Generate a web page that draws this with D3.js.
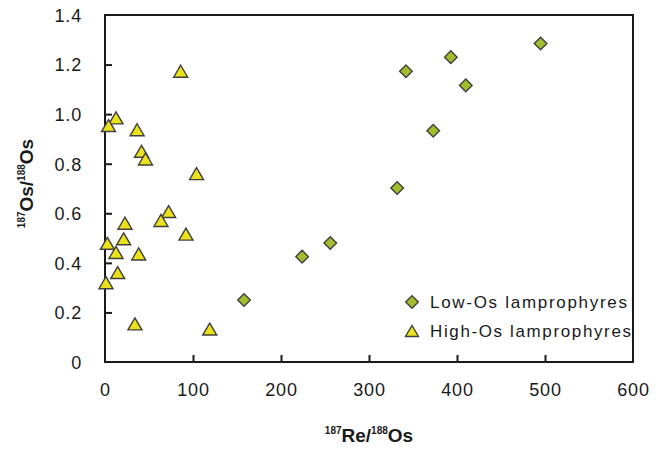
<!DOCTYPE html>
<html>
<head>
<meta charset="utf-8">
<script src="https://cdn.jsdelivr.net/npm/d3@7"></script>
<style>
  html, body { margin: 0; padding: 0; background: #fff; }
  svg { display: block; font-family: "Liberation Sans", Arial, sans-serif; }
</style>
</head>
<body>
<svg id="chart" width="669" height="449"></svg>
<script>
// 187Re/188Os vs 187Os/188Os for two lamprophyre groups
const lowOsRe = [158, 224, 256, 332, 373, 342, 393, 410, 495];
const lowOsOs = [0.25, 0.425, 0.48, 0.702, 0.933, 1.173, 1.23, 1.116, 1.285];

const highOsRe = [86, 12.5, 4, 36.5, 41.5, 46, 104, 22.7, 72.3, 63.6, 92, 21.2, 2.7, 12.5, 38.3, 14.4, 1.1, 34, 119];
const highOsOs = [1.173, 0.985, 0.954, 0.937, 0.85, 0.819, 0.76, 0.56, 0.607, 0.571, 0.516, 0.497, 0.479, 0.442, 0.436, 0.361, 0.32, 0.154, 0.133];

const xTicks = [0, 100, 200, 300, 400, 500, 600];
const yTicks = [0, 0.2, 0.4, 0.6, 0.8, 1.0, 1.2, 1.4];
const yTickLabels = ["0", "0.2", "0.4", "0.6", "0.8", "1.0", "1.2", "1.4"];
const seriesNames = ["Low-Os lamprophyres", "High-Os lamprophyres"];

const margin = { left: 105, right: 36, top: 15, bottom: 87 };
const W = 669, H = 449;
const svg = d3.select("#chart");

const x = d3.scaleLinear().domain([0, 600]).range([margin.left, W - margin.right]);
const y = d3.scaleLinear().domain([0, 1.4]).range([H - margin.bottom, margin.top]);

const axisColor = "#1a1a1a";
const markerStroke = "#404040";
const diamondFill = "#a2bd2c";
const triangleFill = "#ece21a";

// marker shapes
const diamondPath = (r) => `M0,${-r}L${r},0L0,${r}L${-r},0Z`;
const trianglePath = (w, h) => `M0,${-h / 2}L${w / 2},${h / 2}L${-w / 2},${h / 2}Z`;

// frame
svg.append("rect")
  .attr("x", x(0)).attr("y", y(1.4))
  .attr("width", x(600) - x(0)).attr("height", y(0) - y(1.4))
  .attr("fill", "none").attr("stroke", axisColor).attr("stroke-width", 2);

// bottom axis: inward ticks
const xAxis = d3.axisBottom(x).tickValues(xTicks).tickSizeInner(-7).tickSizeOuter(0).tickPadding(0).tickFormat(d3.format("d"));
const gx = svg.append("g").attr("transform", `translate(0,${y(0)})`).call(xAxis);
gx.select(".domain").remove();
gx.selectAll(".tick line").attr("stroke", axisColor).attr("stroke-width", 2)
  .filter(d => d === 0 || d === 600).remove();
gx.selectAll(".tick text").attr("fill", "#1a1a1a").attr("font-size", 18)
  .attr("letter-spacing", 0.8).attr("dy", null).attr("y", 34);

// left axis: inward ticks
const yAxis = d3.axisLeft(y).tickValues(yTicks).tickSizeInner(-7).tickSizeOuter(0).tickPadding(0)
  .tickFormat((d, i) => yTickLabels[i]);
const gy = svg.append("g").attr("transform", `translate(${x(0)},0)`).call(yAxis);
gy.select(".domain").remove();
gy.selectAll(".tick line").attr("stroke", axisColor).attr("stroke-width", 2)
  .filter(d => d === 0 || d === 1.4).remove();
gy.selectAll(".tick text").attr("fill", "#1a1a1a").attr("font-size", 18)
  .attr("letter-spacing", 0.8).attr("x", -23).attr("dy", "0.35em");

// axis titles
const xt = svg.append("text")
  .attr("x", x(300)).attr("y", 442)
  .attr("text-anchor", "middle").attr("font-weight", "bold").attr("font-size", 19).attr("fill", "#1a1a1a");
xt.append("tspan").attr("font-size", 10).attr("dy", -8).text("187");
xt.append("tspan").attr("dy", 8).text("Re/");
xt.append("tspan").attr("font-size", 10).attr("dy", -8).text("188");
xt.append("tspan").attr("dy", 8).text("Os");

const yt = svg.append("text")
  .attr("transform", `translate(33,${(y(0) + y(1.4)) / 2 - 5}) rotate(-90)`)
  .attr("text-anchor", "middle").attr("font-weight", "bold").attr("font-size", 19).attr("fill", "#1a1a1a");
yt.append("tspan").attr("font-size", 10).attr("dy", -8).text("187");
yt.append("tspan").attr("dy", 8).text("Os/");
yt.append("tspan").attr("font-size", 10).attr("dy", -8).text("188");
yt.append("tspan").attr("dy", 8).text("Os");

// data points
const highData = highOsRe.map((v, i) => ({ re: v, os: highOsOs[i] }));
const lowData = lowOsRe.map((v, i) => ({ re: v, os: lowOsOs[i] }));

svg.append("g").selectAll("path").data(highData).join("path")
  .attr("d", trianglePath(14, 12))
  .attr("transform", d => `translate(${x(d.re)},${y(d.os)})`)
  .attr("fill", triangleFill).attr("stroke", markerStroke).attr("stroke-width", 1.4)
  .attr("stroke-linejoin", "miter");

svg.append("g").selectAll("path").data(lowData).join("path")
  .attr("d", diamondPath(6.3))
  .attr("transform", d => `translate(${x(d.re)},${y(d.os)})`)
  .attr("fill", diamondFill).attr("stroke", markerStroke).attr("stroke-width", 1.4);

// legend
const legend = svg.append("g");
legend.append("path").attr("d", diamondPath(6.3))
  .attr("transform", "translate(412,302)")
  .attr("fill", diamondFill).attr("stroke", markerStroke).attr("stroke-width", 1.4);
legend.append("path").attr("d", trianglePath(13, 11))
  .attr("transform", "translate(412,331)")
  .attr("fill", triangleFill).attr("stroke", markerStroke).attr("stroke-width", 1.4);
legend.append("text").attr("x", 430).attr("y", 308).attr("font-size", 17).attr("fill", "#1a1a1a")
  .attr("textLength", 197).attr("lengthAdjust", "spacing").text(seriesNames[0]);
legend.append("text").attr("x", 430).attr("y", 337).attr("font-size", 17).attr("fill", "#1a1a1a")
  .attr("textLength", 201).attr("lengthAdjust", "spacing").text(seriesNames[1]);
</script>
</body>
</html>
